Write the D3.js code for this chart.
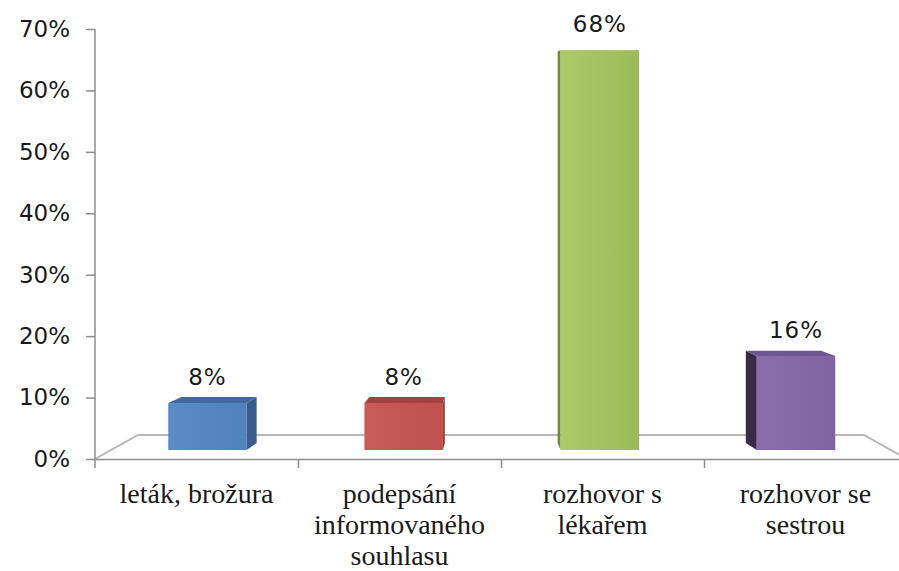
<!DOCTYPE html>
<html>
<head>
<meta charset="utf-8">
<script src="https://cdn.jsdelivr.net/npm/d3@7/dist/d3.min.js"></script>
<style>
  html, body { margin: 0; padding: 0; background: #fff; }
  svg { display: block; }
</style>
</head>
<body>
<div id="chart"></div>
<script>
// Data
const categories = ["leták, brožura", "podepsání informovaného souhlasu", "rozhovor s lékařem", "rozhovor se sestrou"];
const categoryLines = [["leták, brožura"], ["podepsání", "informovaného", "souhlasu"], ["rozhovor s", "lékařem"], ["rozhovor se", "sestrou"]];
const values = [8, 8, 68, 16];
const yTicks = [0, 10, 20, 30, 40, 50, 60, 70];

const colors = [
  { front: "#4f81bd", light: "#5a8cc8", side: "#385d8a", top: "#41699c" },
  { front: "#c0504d", light: "#c95b58", side: "#8e3a38", top: "#a2423f" },
  { front: "#9bbb59", light: "#abcb68", side: "#6f8a3c", top: "#8aa84c" },
  { front: "#8064a2", light: "#8a6eac", side: "#382c49", top: "#6d5690" }
];

const W = 899, H = 571;
const svg = d3.select("#chart").append("svg")
  .attr("width", W).attr("height", H)
  .attr("viewBox", `0 0 ${W} ${H}`);

// Front plane scales (axis plane)
const yAxisScale = d3.scaleLinear().domain([0, 70]).range([459, 29]);
const xBand = d3.scaleBand().domain(categories).range([95, 907])
  .paddingInner(0.6).paddingOuter(0.3);
const boundary = d3.scaleLinear().domain([0, categories.length]).range([95, 907]);

// Bars stand further back, so their plane is slightly smaller
const yBar = d3.scaleLinear().domain([0, 70]).range([450, 450 - 70 * 5.88]);
const barPlaneCx = 523, barPlaneK = 0.9664;
const xBarPlane = x => barPlaneCx + (x - barPlaneCx) * barPlaneK;

// Depth offsets towards the vanishing point
const barBack = (x, y) => [x + (489 - x) * 0.041, y + (100 - y) * 0.0198];
const floorBack = (x, y) => [x + (500 - x) * 0.106, y + (100 - y) * 0.0669];

const defs = svg.append("defs");
colors.forEach((c, i) => {
  const g = defs.append("linearGradient").attr("id", "fg" + i)
    .attr("x1", 0).attr("y1", 0).attr("x2", 1).attr("y2", 0);
  g.append("stop").attr("offset", "0%").attr("stop-color", c.light);
  g.append("stop").attr("offset", "100%").attr("stop-color", c.front);
});

// Floor
const y0 = yAxisScale(0);
const fl = [boundary(0), y0], fr = [boundary(categories.length), y0];
const bl = floorBack(...fl), br = floorBack(...fr);
const floor = svg.append("g").attr("fill", "none").attr("stroke", "#b8b8b8").attr("stroke-width", 2);
floor.append("path").attr("d", d3.line()([fl, bl, br, fr]));

// Bars
const poly = pts => "M" + pts.map(p => p.join(",")).join("L") + "Z";
const bars = svg.append("g");
values.forEach((v, i) => {
  const c = colors[i];
  const x0 = xBarPlane(xBand(categories[i]));
  const x1 = xBarPlane(xBand(categories[i]) + xBand.bandwidth());
  const yt = yBar(v), yb = yBar(0);
  const g = bars.append("g");
  // side face
  if (barBack(x1, yt)[0] > x1) {
    g.append("path").attr("d", poly([[x1, yt], barBack(x1, yt), barBack(x1, yb), [x1, yb]])).attr("fill", c.side);
  }
  if (barBack(x0, yt)[0] < x0) {
    g.append("path").attr("d", poly([[x0, yt], barBack(x0, yt), barBack(x0, yb), [x0, yb]])).attr("fill", c.side);
  }
  // top face
  if (barBack(x0, yt)[1] < yt) {
    g.append("path").attr("d", poly([[x0, yt], barBack(x0, yt), barBack(x1, yt), [x1, yt]])).attr("fill", c.top);
  }
  // front face
  g.append("rect").attr("x", x0).attr("y", yt).attr("width", x1 - x0).attr("height", yb - yt)
    .attr("fill", `url(#fg${i})`);
  // value label
  svg.append("text")
    .attr("x", (x0 + x1) / 2).attr("y", yt - 18)
    .attr("text-anchor", "middle")
    .attr("font-family", "'DejaVu Sans', sans-serif").attr("font-size", 23)
    .attr("letter-spacing", 1)
    .attr("fill", "#1a1a1a")
    .text(v + "%");
});

// Value axis
const yAxis = d3.axisLeft(yAxisScale).tickValues(yTicks).tickFormat(d => d + "%").tickSize(9).tickPadding(16);
const ya = svg.append("g").attr("transform", "translate(95,0)").call(yAxis);
ya.select(".domain").remove();
ya.selectAll(".tick line").attr("stroke", "#8c8c8c").attr("stroke-width", 1.5);
ya.selectAll(".tick text")
  .attr("font-family", "'DejaVu Sans', sans-serif").attr("font-size", 23)
  .attr("fill", "#1a1a1a");
svg.append("line").attr("x1", 95).attr("x2", 95).attr("y1", yAxisScale(70)).attr("y2", y0 + 9)
  .attr("stroke", "#8c8c8c").attr("stroke-width", 1.5);

// Category axis
const xAxis = d3.axisBottom(boundary).tickValues(d3.range(1, categories.length)).tickFormat("").tickSize(9).tickSizeOuter(0);
const xa = svg.append("g").attr("transform", `translate(0,${y0})`).call(xAxis);
xa.select(".domain").attr("stroke", "#8c8c8c").attr("stroke-width", 1.5);
xa.selectAll(".tick line").attr("stroke", "#8c8c8c").attr("stroke-width", 1.5);

// Category labels
const lbl = svg.append("g")
  .attr("font-family", "'Liberation Serif', 'Times New Roman', serif")
  .attr("font-size", 28).attr("fill", "#1a1a1a").attr("text-anchor", "middle");
categoryLines.forEach((lines, i) => {
  const cx = xBand(categories[i]) + xBand.bandwidth() / 2;
  const t = lbl.append("text").attr("x", cx).attr("y", 503);
  lines.forEach((s, j) => {
    t.append("tspan").attr("x", cx).attr("dy", j === 0 ? 0 : 31).text(s);
  });
});
</script>
</body>
</html>
